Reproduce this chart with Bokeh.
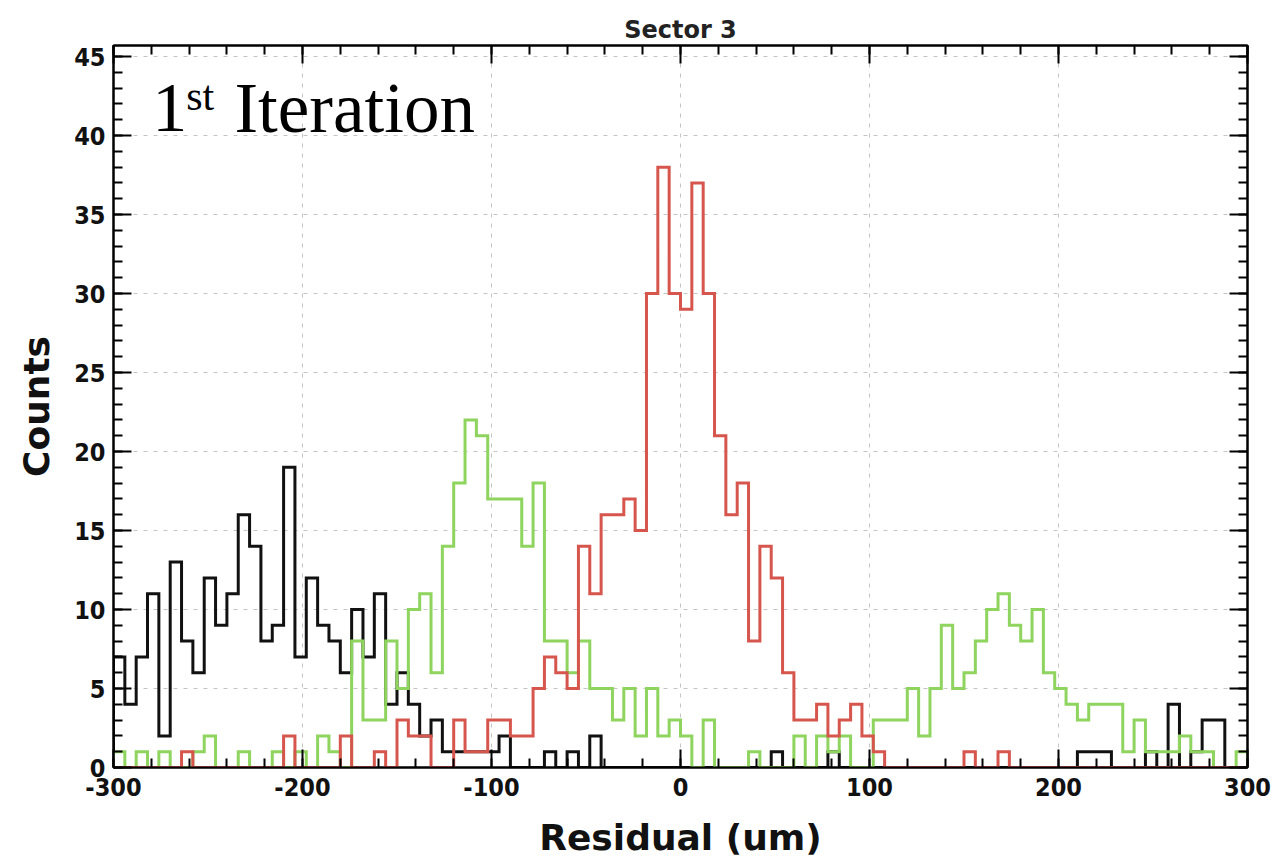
import numpy as np
from bokeh.plotting import figure
from bokeh.models import (Range1d, LinearAxis, SingleIntervalTicker, Label,
                          CustomJSTickFormatter)
from bokeh.embed import file_html
from bokeh.resources import INLINE

# ---- data: 100 bins of 6 um from -300 to 300 ----
x_min, x_max, n_bins = -300, 300, 100

counts_black = [7, 4, 7, 11, 2, 13, 8, 6, 12, 9,
                11, 16, 14, 8, 9, 19, 7, 12, 9, 8,
                6, 10, 7, 11, 4, 6, 4, 2, 3, 1,
                1, 1, 1, 1, 2, 0, 0, 0, 1, 0,
                1, 0, 2, 0, 0, 0, 0, 0, 0, 0,
                0, 0, 0, 0, 0, 0, 0, 0, 1, 0,
                0, 0, 0, 1, 0, 0, 0, 0, 0, 0,
                0, 0, 0, 0, 0, 0, 0, 0, 0, 0,
                0, 0, 0, 0, 0, 1, 1, 1, 0, 0,
                0, 1, 0, 4, 0, 1, 3, 3, 0, 0]

counts_red = [0, 0, 0, 0, 0, 0, 1, 0, 0, 0,
              0, 0, 0, 0, 0, 2, 0, 0, 0, 0,
              2, 0, 0, 1, 0, 3, 2, 2, 0, 0,
              3, 1, 1, 3, 3, 2, 2, 5, 7, 6,
              5, 14, 11, 16, 16, 17, 15, 30, 38, 30,
              29, 37, 30, 21, 16, 18, 8, 14, 12, 6,
              3, 3, 4, 2, 3, 4, 2, 1, 0, 0,
              0, 0, 0, 0, 0, 1, 0, 0, 1, 0,
              0, 0, 0, 0, 0, 0, 0, 0, 0, 0,
              0, 0, 0, 0, 0, 0, 0, 0, 0, 0]

counts_green = [1, 0, 1, 0, 1, 0, 0, 1, 2, 0,
                0, 1, 0, 0, 1, 0, 1, 0, 2, 1,
                0, 8, 3, 3, 8, 5, 10, 11, 6, 14,
                18, 22, 21, 17, 17, 17, 14, 18, 8, 8,
                6, 8, 5, 5, 3, 5, 2, 5, 2, 3,
                2, 0, 3, 0, 0, 0, 1, 0, 0, 0,
                2, 0, 2, 1, 2, 0, 0, 3, 3, 3,
                5, 2, 5, 9, 5, 6, 8, 10, 11, 9,
                8, 10, 6, 5, 4, 3, 4, 4, 4, 1,
                3, 1, 1, 1, 2, 1, 1, 0, 0, 1]

title_text = "Sector 3"
x_label = "Residual (um)"
y_label = "Counts"

edges = np.linspace(x_min, x_max, n_bins + 1)


def step_path(counts):
    xs, ys = [edges[0]], [0]
    for i, c in enumerate(counts):
        xs += [edges[i], edges[i + 1]]
        ys += [c, c]
    xs.append(edges[-1])
    ys.append(0)
    return xs, ys


p = figure(width=1280, height=865, output_backend="svg", toolbar_location=None,
           x_range=Range1d(x_min, x_max), y_range=Range1d(0, 45.7),
           min_border_left=113, min_border_right=33, min_border_top=45,
           min_border_bottom=98, x_axis_label=x_label, y_axis_label=y_label)
p.background_fill_color = "white"
p.border_fill_color = "white"
p.outline_line_color = "black"
p.outline_line_width = 2

p.title.text = title_text
p.title.align = "center"
p.title.text_font = "DejaVu Sans"
p.title.text_font_style = "bold"
p.title.text_font_size = "24px"
p.title.text_color = "#222222"
p.title.standoff = 4

num_fmt = CustomJSTickFormatter(code="return tick.toFixed(0)")
xt = SingleIntervalTicker(interval=100, num_minor_ticks=5)
yt = SingleIntervalTicker(interval=5, num_minor_ticks=5)
p.xaxis.ticker = xt
p.yaxis.ticker = yt

for ax in (p.xaxis[0], p.yaxis[0]):
    ax.formatter = num_fmt
    ax.major_tick_in = 18
    ax.major_tick_out = 0
    ax.minor_tick_in = 9
    ax.minor_tick_out = 0
    ax.axis_line_width = 2
    ax.major_tick_line_width = 2
    ax.minor_tick_line_width = 2
    ax.major_label_text_font = "DejaVu Sans Condensed"
    ax.major_label_text_font_style = "bold"
    ax.major_label_text_font_size = "25px"
    ax.major_label_text_color = "#111111"
    ax.axis_label_text_font = "DejaVu Sans"
    ax.axis_label_text_font_style = "bold"
    ax.axis_label_text_font_size = "36px"
    ax.axis_label_text_color = "#111111"
p.xaxis.major_label_standoff = 10
p.yaxis.major_label_standoff = 8
p.xaxis.axis_label_standoff = 18
p.yaxis.axis_label_standoff = 14

empty = CustomJSTickFormatter(code="return ''")
top = LinearAxis(ticker=SingleIntervalTicker(interval=100, num_minor_ticks=5),
                 formatter=empty)
right = LinearAxis(ticker=SingleIntervalTicker(interval=5, num_minor_ticks=5),
                   formatter=empty)
for ax in (top, right):
    ax.major_tick_in = 18
    ax.major_tick_out = 0
    ax.minor_tick_in = 9
    ax.minor_tick_out = 0
    ax.axis_line_width = 2
    ax.major_tick_line_width = 2
    ax.minor_tick_line_width = 2
    ax.major_label_standoff = 0
p.add_layout(top, "above")
p.add_layout(right, "right")

p.xgrid.ticker = xt
p.ygrid.ticker = yt
for g in (p.xgrid[0], p.ygrid[0]):
    g.grid_line_color = "#c4c4c4"
    g.grid_line_dash = "4 6"
    g.grid_line_width = 1

xs, ys = step_path(counts_black)
p.line(xs, ys, line_color="#111111", line_width=3, line_join="miter")
xs, ys = step_path(counts_green)
p.line(xs, ys, line_color="#8ed45e", line_width=3, line_join="miter")
xs, ys = step_path(counts_red)
p.line(xs, ys, line_color="#d6564e", line_width=3, line_join="miter")

serif = "Liberation Serif"
p.add_layout(Label(x=-279.5, y=41.75, text="1", text_font=serif,
                   text_font_size="70px", text_color="black",
                   text_baseline="alphabetic"))
p.add_layout(Label(x=-261.5, y=42.5, text="st", text_font=serif,
                   text_font_size="42px", text_color="black",
                   text_baseline="alphabetic"))
p.add_layout(Label(x=-236, y=41.75, text="Iteration", text_font=serif,
                   text_font_size="71px", text_color="black",
                   text_baseline="alphabetic"))

open("out.html", "w").write(file_html(p, INLINE))
